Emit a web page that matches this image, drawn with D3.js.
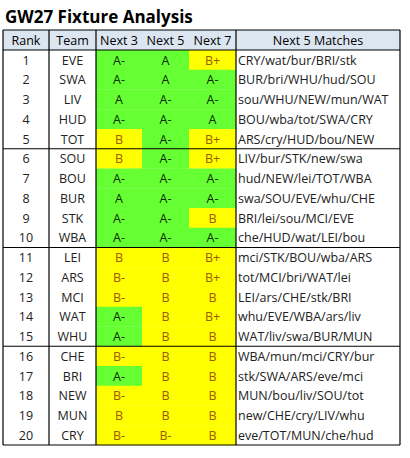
<!DOCTYPE html>
<html><head><meta charset="utf-8">
<script src="https://cdn.jsdelivr.net/npm/d3@7"></script>
<style>body{margin:0;background:#fff}</style>
</head><body>
<svg id="c" width="410" height="458"></svg>
<script>
var teams = ['EVE','SWA','LIV','HUD','TOT','SOU','BOU','BUR','STK','WBA','LEI','ARS','MCI','WAT','WHU','CHE','BRI','NEW','MUN','CRY'];
var next3 = ['A-','A-','A','A-','B','B','A-','A','A-','A-','B','B-','B-','A-','A-','B-','A-','B-','B','B-'];
var next5 = ['A','A','A-','A-','A-','A-','A-','A-','A-','A-','B','B','B','B','B','B','B','B','B','B-'];
var next7 = ['B+','A-','A-','A','B+','B+','A-','A-','B','A-','B+','B+','B','B+','B','B','B','B','B','B'];
var matches = ['CRY/wat/bur/BRI/stk','BUR/bri/WHU/hud/SOU','sou/WHU/NEW/mun/WAT','BOU/wba/tot/SWA/CRY','ARS/cry/HUD/bou/NEW',
  'LIV/bur/STK/new/swa','hud/NEW/lei/TOT/WBA','swa/SOU/EVE/whu/CHE','BRI/lei/sou/MCI/EVE','che/HUD/wat/LEI/bou',
  'mci/STK/BOU/wba/ARS','tot/MCI/bri/WAT/lei','LEI/ars/CHE/stk/BRI','whu/EVE/WBA/ars/liv','WAT/liv/swa/BUR/MUN',
  'WBA/mun/mci/CRY/bur','stk/SWA/ARS/eve/mci','MUN/bou/liv/SOU/tot','new/CHE/cry/LIV/whu','eve/TOT/MUN/che/hud'];

(function() {
  var svg = d3.select('#c');
  var font = 'Open Sans, sans-serif';
  var cols = [3, 49, 96, 142, 189, 236, 400];
  var tableTop = 30, headH = 20, rowH = 19.75;
  var y = d3.scaleLinear().domain([0, 20]).range([tableTop + headH, tableTop + headH + 20 * rowH]);

  svg.append('text').attr('x', 5).attr('y', 23).attr('font-family', font)
    .attr('font-weight', 'bold').attr('font-size', 17).text('GW27 Fixture Analysis');

  svg.append('rect').attr('x', cols[0]).attr('y', tableTop).attr('width', cols[6] - cols[0]).attr('height', headH)
    .attr('fill', '#dce6f1');

  var heads = ['Rank', 'Team', 'Next 3', 'Next 5', 'Next 7', 'Next 5 Matches'];
  heads.forEach(function(h, i) {
    svg.append('text').attr('x', (cols[i] + cols[i + 1]) / 2).attr('y', tableTop + 15)
      .attr('text-anchor', 'middle').attr('font-family', font).attr('font-size', 12.5).attr('fill', '#000').text(h);
  });

  var gradeCols = [next3, next5, next7];
  d3.range(20).forEach(function(r) {
    var ry = y(r);
    gradeCols.forEach(function(g, j) {
      var v = g[r];
      svg.append('rect').attr('x', cols[2 + j]).attr('y', ry).attr('width', cols[3 + j] - cols[2 + j]).attr('height', rowH + 0.3)
        .attr('fill', v[0] === 'A' ? '#66ff33' : '#ffff00');
      svg.append('text').attr('x', (cols[2 + j] + cols[3 + j]) / 2).attr('y', ry + 14.5)
        .attr('text-anchor', 'middle').attr('font-family', font).attr('font-size', 12.5)
        .attr('fill', v[0] === 'A' ? '#0a2a00' : '#9c5a00').text(v);
    });
    svg.append('text').attr('x', (cols[0] + cols[1]) / 2).attr('y', ry + 14.5).attr('text-anchor', 'middle')
      .attr('font-family', font).attr('font-size', 12.5).attr('fill', '#222').text(r + 1);
    svg.append('text').attr('x', (cols[1] + cols[2]) / 2).attr('y', ry + 14.5).attr('text-anchor', 'middle')
      .attr('font-family', font).attr('font-size', 12.5).attr('fill', '#222').text(teams[r]);
    svg.append('text').attr('x', cols[5] + 2).attr('y', ry + 14.5)
      .attr('font-family', font).attr('font-size', 12.5).attr('fill', '#222').text(matches[r]);
  });

  var line = function(x1, y1, x2, y2) {
    svg.append('line').attr('x1', x1).attr('y1', y1).attr('x2', x2).attr('y2', y2)
      .attr('stroke', '#000').attr('stroke-width', 1.2);
  };
  var bottom = y(20);
  [0, 1, 2, 5, 6].forEach(function(i) { line(cols[i], tableTop, cols[i], bottom); });
  line(cols[0], tableTop, cols[6], tableTop);
  [0, 5, 10, 15, 20].forEach(function(r) { line(cols[0], y(r), cols[6], y(r)); });
})();
</script>
</body></html>
